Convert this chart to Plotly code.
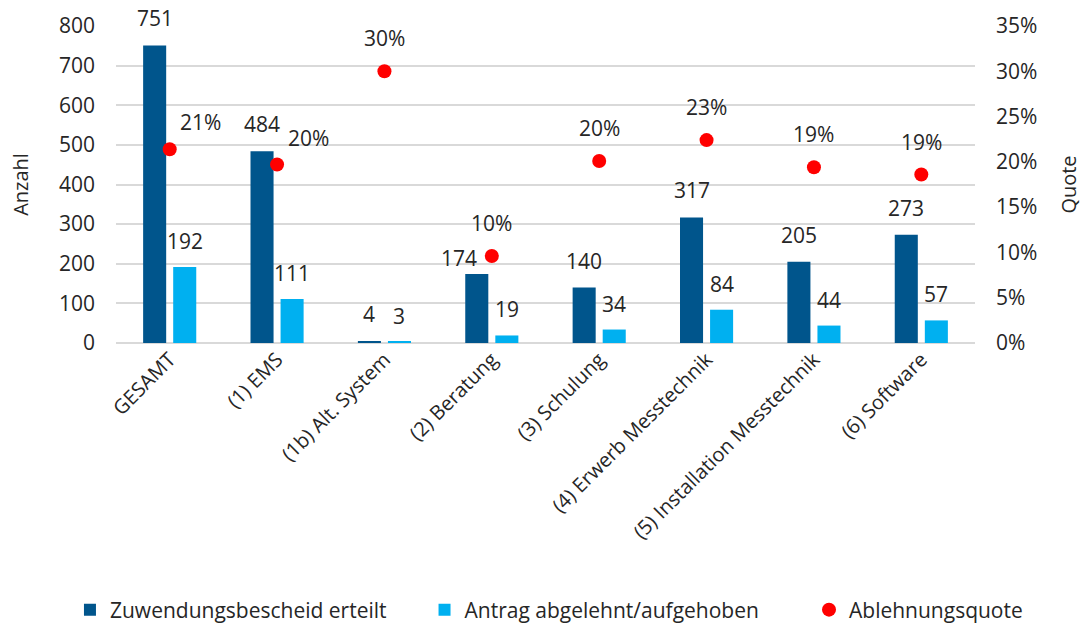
import plotly.graph_objects as go

categories = ["GESAMT", "(1) EMS", "(1b) Alt. System", "(2) Beratung", "(3) Schulung",
              "(4) Erwerb Messtechnik", "(5) Installation Messtechnik", "(6) Software"]
erteilt = [751, 484, 4, 174, 140, 317, 205, 273]
abgelehnt = [192, 111, 3, 19, 34, 84, 44, 57]
quote = [0.214, 0.197, 0.30, 0.096, 0.201, 0.224, 0.194, 0.186]
quote_labels = ["21%", "20%", "30%", "10%", "20%", "23%", "19%", "19%"]

DARK = "#00558C"
LIGHT = "#00B0F0"
RED = "#FF0000"
FONT = "Open Sans"
TXT = "#262626"

fig = go.Figure()
fig.add_trace(go.Bar(x=categories, y=erteilt, name="Zuwendungsbescheid erteilt",
                     marker=dict(color=DARK, line=dict(width=0)), legend="legend"))
fig.add_trace(go.Bar(x=categories, y=abgelehnt, name="Antrag abgelehnt/aufgehoben",
                     marker=dict(color=LIGHT, line=dict(width=0)), legend="legend2"))
fig.add_trace(go.Scatter(x=categories, y=quote, name="Ablehnungsquote", mode="markers",
                         marker=dict(color=RED, size=14), yaxis="y2", legend="legend3"))

# Datenbeschriftungen (Beratung: Wert links neben den Punkt geschoben)
for i, c in enumerate(categories):
    fig.add_annotation(x=c, y=erteilt[i], text=str(erteilt[i]), showarrow=False,
                       xshift=-33 if i == 3 else -15, yshift=16 if i == 3 else 27,
                       font=dict(size=21, color=TXT, family=FONT))
    fig.add_annotation(x=c, y=abgelehnt[i], text=str(abgelehnt[i]), showarrow=False,
                       xshift=15, yshift=26,
                       font=dict(size=21, color=TXT, family=FONT))
    fig.add_annotation(x=c, y=quote[i], yref="y2", text=quote_labels[i], showarrow=False,
                       xshift=31 if i < 2 else 0, yshift=27 if i < 2 else 33,
                       font=dict(size=21, color=TXT, family=FONT))

leg = dict(orientation="h", xref="container", yref="container", y=0.024, yanchor="middle",
           xanchor="left", font=dict(size=21, color=TXT, family=FONT), itemwidth=30,
           bgcolor="rgba(0,0,0,0)")

fig.update_layout(
    width=1083, height=625,
    margin=dict(l=116, r=108, t=26, b=282),
    paper_bgcolor="white", plot_bgcolor="white",
    font=dict(family=FONT, size=21, color=TXT),
    barmode="group", bargap=0.44, bargroupgap=0.233,
    showlegend=True,
    legend=dict(leg, x=0.0646),
    legend2=dict(leg, x=0.392),
    legend3=dict(leg, x=0.747),
    xaxis=dict(tickangle=-45, showgrid=False, ticks="", tickfont=dict(size=20), automargin=False),
    yaxis=dict(range=[0, 800], dtick=100, showgrid=True, gridcolor="#D9D9D9", gridwidth=1.5,
               zeroline=True, zerolinecolor="#D9D9D9", zerolinewidth=1.5, automargin=False,
               tickfont=dict(size=21), title=dict(text="Anzahl", standoff=24, font=dict(size=20)),
               ticklabelstandoff=20),
    yaxis2=dict(range=[0, 0.35], dtick=0.05, tickformat=".0%", overlaying="y", side="right",
                showgrid=False, zeroline=False, automargin=False, tickfont=dict(size=21),
                title=dict(text="Quote", standoff=25, font=dict(size=20)), ticklabelstandoff=20),
)

# Seitenrand entfernen, damit das Diagramm genau im Fenster sitzt
fig.write_html("out.html", config={"displayModeBar": False},
               post_script="document.body.style.margin='0';")
